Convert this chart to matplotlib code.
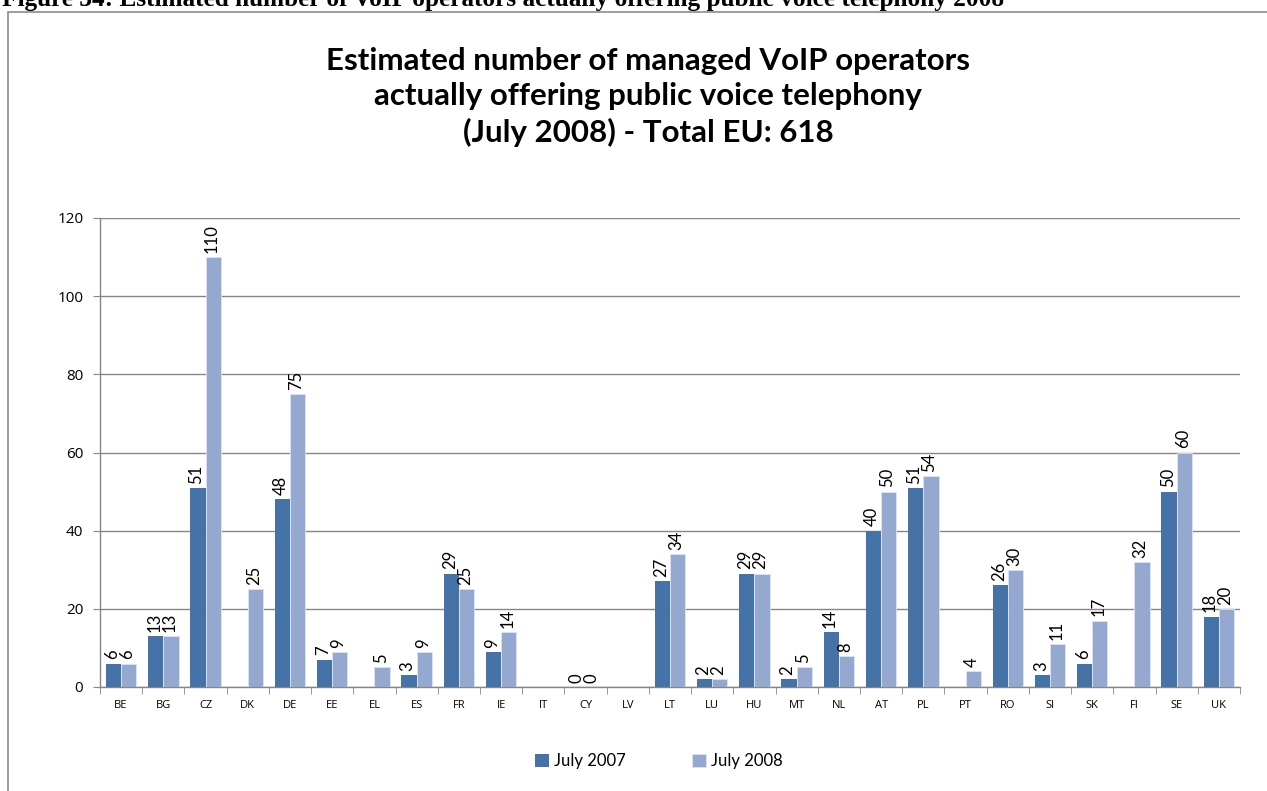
import matplotlib
matplotlib.use("Agg")
import matplotlib.pyplot as plt
from matplotlib.patches import Rectangle
import numpy as np

categories = ["BE","BG","CZ","DK","DE","EE","EL","ES","FR","IE","IT","CY","LV","LT","LU",
              "HU","MT","NL","AT","PL","PT","RO","SI","SK","FI","SE","UK"]
nan = np.nan
july2007 = [6,13,51,nan,48,7,nan,3,29,9,nan,0,nan,27,2,29,2,14,40,51,nan,26,3,6,nan,50,18]
july2008 = [6,13,110,25,75,9,5,9,25,14,nan,0,nan,34,2,29,5,8,50,54,4,30,11,17,32,60,20]
series_names = ["July 2007", "July 2008"]
title = "Estimated number of managed VoIP operators\nactually offering public voice telephony\n(July 2008) - Total EU: 618"
caption = "Figure 34: Estimated number of VoIP operators actually offering public voice telephony 2008"

c07 = "#4572A7"
c08 = "#95A9D0"
grid_c = "#868686"

plt.rcParams['font.family'] = ['Lato', 'DejaVu Sans']
fig = plt.figure(figsize=(12.67, 7.91), dpi=100)
W, H = 1267, 791
# frame
fig.patches.append(Rectangle((8/W, -0.05), 1.2, 1 - 12/H + 0.05, transform=fig.transFigure,
                             fill=False, edgecolor="#8c8c8c", lw=1.2))
fig.text(2/W, 1 - 6/H, caption, family="Liberation Serif", fontweight="bold",
         fontsize=18.2, va="baseline", ha="left")

ax = fig.add_axes([100/W, 1 - 687/H, 1140/W, (687-218)/H])
x = np.arange(len(categories))
bw = 0.36
b1 = ax.bar(x - bw/2, july2007, bw, color=c07, label=series_names[0], zorder=3)
b2 = ax.bar(x + bw/2, july2008, bw, color=c08, edgecolor="#dce4f1", lw=0.6,
            label=series_names[1], zorder=3)
for bars, vals in ((b1, july2007), (b2, july2008)):
    for r, v in zip(bars, vals):
        if np.isnan(v):
            continue
        ax.annotate(f"{int(v)}", (r.get_x() + r.get_width()/2, v), xytext=(-1, 3),
                    textcoords="offset points", rotation=90, ha="center", va="bottom",
                    fontsize=12)
ax.set_xlim(-0.5, len(categories) - 0.5)
ax.set_ylim(0, 120)
ax.set_yticks(range(0, 121, 20))
ax.yaxis.grid(True, color=grid_c, lw=1, zorder=0)
ax.set_axisbelow(True)
ax.set_xticks(x)
ax.set_xticklabels(categories, fontsize=8, family=["Open Sans", "DejaVu Sans"])
ax.set_xticks(np.arange(-0.5, len(categories), 1), minor=True)
ax.tick_params(axis="x", which="major", length=0, pad=9)
ax.tick_params(axis="x", which="minor", length=5, color=grid_c)
ax.tick_params(axis="y", length=5, color=grid_c, labelsize=11, pad=7)
for lab in ax.get_yticklabels():
    lab.set_family(["Open Sans", "DejaVu Sans"])
for s in ("top", "right"):
    ax.spines[s].set_visible(False)
for s in ("left", "bottom"):
    ax.spines[s].set_color(grid_c)
    ax.spines[s].set_linewidth(1)

fig.text(648/W, 1 - 97/H, title, ha="center", va="center", fontsize=22.5,
         fontweight="bold", linespacing=1.3)
fig.legend(loc="center", bbox_to_anchor=(0.52, 1 - 761/H), ncol=2, frameon=False,
           fontsize=12, handlelength=0.8, handleheight=0.8, handletextpad=0.3,
           columnspacing=4)
fig.savefig("out.png", dpi=100)
